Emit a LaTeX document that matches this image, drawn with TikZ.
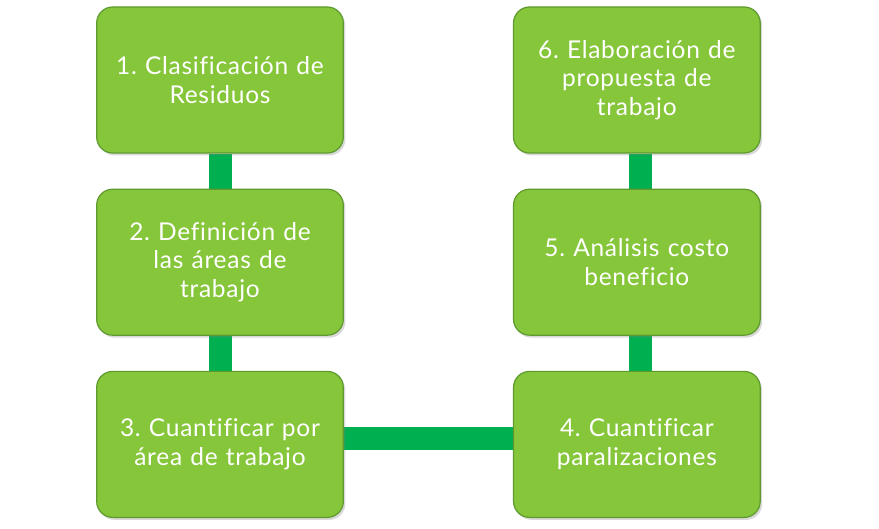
\documentclass[tikz,border=0pt]{standalone}
\usepackage{fontspec}
\setmainfont{Lato}[LetterSpace=3, Ligatures=CommonOff]
\usetikzlibrary{positioning, shadows, backgrounds}
\definecolor{boxgreen}{HTML}{86C63A}
\definecolor{boxedge}{HTML}{5E9A2E}
\definecolor{bargreen}{HTML}{00B050}
\frenchspacing

\begin{document}
\begin{tikzpicture}[
                x=1pt, y=1pt,
                node distance=35pt,
                box/.style={draw=boxedge, line width=1.2pt, rounded corners=16pt, fill=boxgreen, minimum width=245pt, minimum height=146pt, text width=240pt, align=center, text=white, font=\fontsize{24.5}{28.5}\selectfont, drop shadow={opacity=0.3, shadow xshift=2pt, shadow yshift=-2.5pt}},
                bar/.style={draw=bargreen, line width=23pt}
            ]
                \useasboundingbox (0,0) rectangle (879,-529);

                \node[box] (clas) at (220,-80) {1. Clasificación de\\Residuos};
                \node[box, below=of clas] (def) {2. Definición de\\las áreas de\\trabajo};
                \node[box, below=of def] (cuant) {3. Cuantificar por\\área de trabajo};
                \node[box, right=169pt of clas] (prop) {6. Elaboración de\\propuesta de\\trabajo};
                \node[box, below=of prop] (costo) {5. Análisis costo\\beneficio};
                \node[box, below=of costo] (par) {4. Cuantificar\\paralizaciones};

                \begin{scope}[on background layer]
                \draw[bar] (clas) -- (def);
                \draw[bar] (def) -- (cuant);
                \draw[bar] ([yshift=6pt]cuant.east) -- ([yshift=6pt]par.west);
                \draw[bar] ([xshift=4pt]par.north) -- ([xshift=4pt]costo.south);
                \draw[bar] ([xshift=4pt]costo.north) -- ([xshift=4pt]prop.south);
                \end{scope}
            \end{tikzpicture}
\end{document}
